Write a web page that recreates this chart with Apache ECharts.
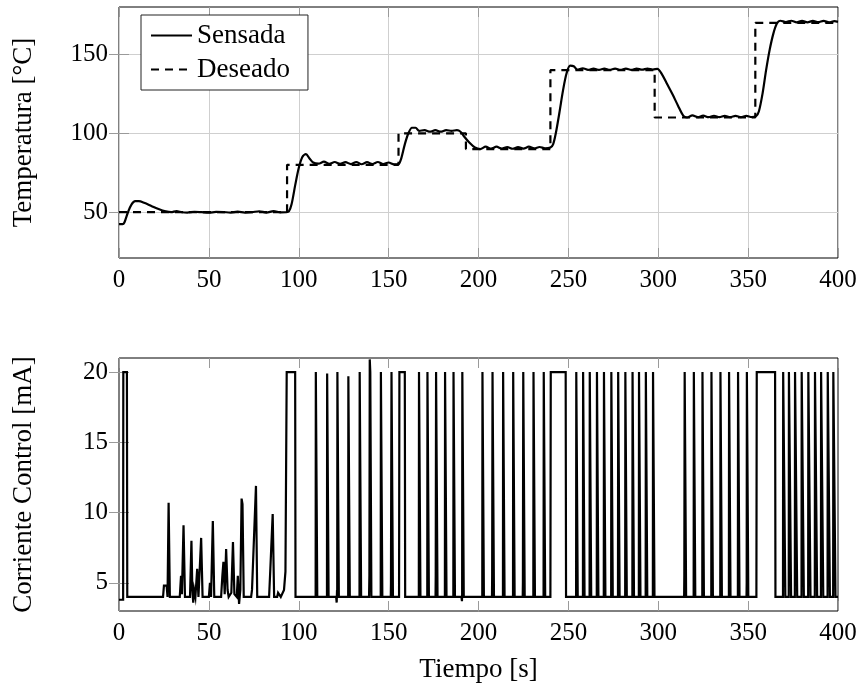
<!DOCTYPE html>
<html>
<head>
<meta charset="utf-8">
<script src="https://cdn.jsdelivr.net/npm/echarts@6/dist/echarts.min.js"></script>
<style>html,body{margin:0;padding:0;background:#fff}#c{width:860px;height:686px}</style>
</head>
<body>
<div id="c"></div>
<script>
// ---- data ----
const timeTicks = [0, 50, 100, 150, 200, 250, 300, 350, 400];
const tempTicks = [50, 100, 150];
const currentTicks = [5, 10, 15, 20];

// set-point (Deseado): change times and levels (step)
const setTimes  = [0, 93.5, 155.5, 193, 240, 298, 354, 400];
const setLevels = [50, 80, 100, 90, 140, 110, 170, 170];

// measured temperature (Sensada) [t, °C]
const sensada = [
  [0,42.5],[2,42.5],[3,43.5],[5,50],[7,55],[9,57],[11,57],[14,56],[18,54],[22,52],[26,50.5],[29,50],
  [32,50.7],[35,50],[38,49.8],[42,50.3],[46,50],[50,49.7],[54,50.2],[58,50.1],[62,49.8],[66,50.4],
  [70,49.8],[74,50],[78,50.6],[82,49.8],[86,50.7],[90,49.9],[93,50],[94.5,50.5],
  [96,55],[98,67],[100,78],[102,85],[104,86.8],[106,84],[108,81.5],[111,80.8],[114,82],[117,80.7],
  [120,81.8],[123,80.6],[126,81.7],[129,80.5],[132,81.8],[135,80.4],[138,81.7],[141,80.5],[144,81.8],
  [147,80.5],[150,81.5],[153,80.3],[155.5,80.5],
  [157,84],[159,93],[161,100],[163,103.5],[165,103.5],[167,101.5],[170,102],[173,101],[176,102],
  [179,101],[182,102],[185,101.5],[188,102],[190,101],[192,98],[195,94],[198,91],[201,90],
  [204,91.5],[207,90.3],[210,91.5],[213,90.3],[216,91.3],[219,90.2],[222,91.3],[225,90.3],[228,91.5],
  [231,90.4],[234,91.3],[237,90.5],[240,91],[241.5,93],
  [243,100],[245,113],[247,127],[249,138],[251,142.8],[253,142.5],[255,140.3],[258,141.2],[261,140.2],
  [264,141],[267,140.2],[270,141],[273,140.2],[276,141],[279,140.2],[282,141],[285,140.2],[288,141],
  [291,140.3],[294,141],[297,140.4],[299.5,140.8],
  [302,137.5],[305,131],[308,124.5],[311,117.5],[314,111],[316,110],[319,111.3],[322,110.2],[325,111.2],
  [328,110.2],[331,111.1],[334,110.2],[337,111],[340,110.3],[343,111],[346,110.2],[349,111],[352,110.3],
  [354.5,111],
  [356,114],[358,125],[360,140],[362,153],[364,163],[366,169.5],[368,171.3],[371,170.5],[374,171.3],
  [377,170.3],[380,171.2],[383,170.3],[386,171.2],[389,170.4],[392,171.2],[395,170.3],[398,171],[400,170.6]
];

// control current [t, mA]
const corriente = [
  [0,3.8],[2.3,3.8],[2.4,20],[4.4,20],[4.6,4],
  [24.5,4],[25,4.8],[26.5,4.8],[27,4],[27.6,10.7],[28.3,4],
  [33.8,4],[34.5,5.5],[35,4.2],[35.9,9.1],[36.7,4],
  [39.5,4],[40.3,8.0],[40.8,4.5],[41.3,3.6],[41.8,4.5],[42.5,4],[43.5,6],[44.2,4],[45.7,8.2],[46.5,4],
  [50,4],[50.6,5],[51.2,4],[52.2,9.4],[53,4],
  [56.8,4],[57.5,5.5],[58.1,6.5],[58.8,4.2],[59.6,7.4],[60.4,4.5],[61,4],[62.5,4.3],[63.4,7.9],[64.2,4.2],
  [65.5,4],[66.1,5.5],[66.8,3.5],[67.5,4.5],[68.2,11],[68.7,10.6],[69.4,4],
  [73.5,4],[74,4.5],[75,4.5],[76.2,11.9],[76.9,4],
  [83.5,4],[84.2,6],[85.5,9.9],[86.3,4],
  [88,4],[88.5,4.3],[89.5,4.2],[90,4],
  [91.8,4.5],[92.6,5.8],[93.3,20],[98,20],[98.2,4],
  [109.4,4],[109.5,20],[110.2,20],[110.3,4],
  [115.7,4],[115.8,19.9],[116.5,19.9],[116.6,4],
  [120.8,4],[121.1,3.6],[121.3,4.5],[121.4,4],[121.5,20],[122.2,20],[122.3,4],
  [127.5,4],[127.6,19.7],[128.3,19.7],[128.4,4],
  [133.8,4],[133.9,20],[134.6,20],[134.7,4],
  [139.1,4],[139.3,5.5],[139.5,20.9],[139.8,20],[140.3,20],[140.4,4],
  [145.6,4],[145.7,20],[146.4,20],[146.5,4],
  [151.2,4],[151.3,5],[151.5,5],[151.6,20],[152.3,20],[152.4,4],
  [155.8,4],[156,20],[159,20],[159.2,4],
  [166.8,4],[166.9,20],[167.6,20],[167.7,4],
  [171.5,4],[171.6,20],[172.3,20],[172.4,4],
  [176.1,4],[176.2,5.5],[176.4,20],[177.1,20],[177.2,4],
  [181.3,4],[181.4,20],[182.1,20],[182.2,4],
  [186,4],[186.1,20],[186.8,20],[186.9,4],
  [190.5,4],[190.8,3.7],[190.9,4.2],[191,20],[191.7,20],[191.8,4],
  [202.1,4],[202.2,20],[202.9,20],[203,4],
  [207.5,4],[207.6,5.5],[207.8,20],[208.5,20],[208.6,4],
  [213.6,4],[213.7,20],[214.4,20],[214.5,4],
  [219.2,4],[219.3,20],[220,20],[220.1,4],
  [224.6,4],[224.7,5],[224.9,20],[225.6,20],[225.7,4],
  [230.5,4],[230.6,20],[231.3,20],[231.4,4],
  [236.2,4],[236.3,20],[237,20],[237.1,4],
  [240,4],[240.2,20],[248.5,20],[248.7,4],
  [254.3,4],[254.4,20],[255.1,20],[255.2,4],
  [258.1,4],[258.2,20],[258.9,20],[259,4],
  [261.8,4],[261.9,20],[262.6,20],[262.7,4],
  [265.8,4],[265.9,20],[266.6,20],[266.7,4],
  [269.7,4],[269.8,20],[270.5,20],[270.6,4],
  [273.8,4],[273.9,20],[274.6,20],[274.7,4],
  [277.6,4],[277.7,20],[278.4,20],[278.5,4],
  [281.6,4],[281.7,20],[282.4,20],[282.5,4],
  [285.6,4],[285.7,20],[286.4,20],[286.5,4],
  [289.2,4],[289.3,20],[290,20],[290.1,4],
  [293,4],[293.1,20],[293.8,20],[293.9,4],
  [297,4],[297.1,20],[297.8,20],[297.9,4],
  [314.4,4],[314.5,5.5],[314.7,20],[315.4,20],[315.5,4],
  [319.7,4],[319.8,20],[320.5,20],[320.6,4],
  [324.5,4],[324.6,20],[325.3,20],[325.4,4],
  [329.5,4],[329.6,20],[330.3,20],[330.4,4],
  [334.5,4],[334.6,20],[335.3,20],[335.4,4],
  [339.3,4],[339.4,20],[340.1,20],[340.2,4],
  [344.3,4],[344.4,20],[345.1,20],[345.2,4],
  [349.1,4],[349.2,5],[349.3,20],[350,20],[350.1,4],
  [354.6,4],[354.8,20],[365,20],[365.2,4],
  [369.4,4],[369.5,20],[370.6,20],[370.7,4],
  [372.6,4],[372.7,20],[373.8,20],[373.9,4],
  [376,4],[376.1,20],[377.2,20],[377.3,4],
  [379.7,4],[379.8,20],[380.9,20],[381,4],
  [383.4,4],[383.5,20],[384.6,20],[384.7,4],
  [387.1,4],[387.2,20],[388.3,20],[388.4,4],
  [390.5,4],[390.6,20],[391.7,20],[391.8,4],
  [394.2,4],[394.3,20],[395.4,20],[395.5,4],
  [397.3,4],[397.4,20],[398.5,20],[398.6,4],
  [400,4]
];

// ---- chart ----
const FONT = 'Liberation Serif';
const setData = setTimes.map((t, i) => [t, setLevels[i]]);
const tickGrey = '#9a9a9a';
const gridGrey = '#cfcfcf';

function xAx(gridIndex, pos, labels, split) {
  return {
    type: 'value', gridIndex, position: pos, min: 0, max: 400, interval: 50,
    axisLine: { show: false },
    axisTick: { show: true, inside: true, length: 10, lineStyle: { color: tickGrey, width: 1 } },
    axisLabel: { show: labels, margin: 10, color: '#000', fontFamily: FONT, fontSize: 25,
                 formatter: v => timeTicks.includes(v) ? String(v) : '' },
    splitLine: { show: split, lineStyle: { color: gridGrey, width: 1 } }
  };
}
function yAx(gridIndex, pos, labels, split, min, max, ticks) {
  return {
    type: 'value', gridIndex, position: pos, min, max,
    axisLine: { show: false },
    axisTick: { show: true, inside: true, length: 10, customValues: ticks,
                lineStyle: { color: tickGrey, width: 1 } },
    axisLabel: { show: labels, margin: 11, customValues: ticks, color: '#000',
                 fontFamily: FONT, fontSize: 25 },
    splitLine: { show: split, lineStyle: { color: gridGrey, width: 1 } }
  };
}

const chart = echarts.init(document.getElementById('c'), null, { renderer: 'canvas' });
const yTop = yAx(0, 'left', true, true, 21, 180, tempTicks);
yTop.name = 'Temperatura [°C]';
yTop.nameLocation = 'middle';
yTop.nameGap = 82;
yTop.nameTextStyle = { fontFamily: FONT, fontSize: 27, color: '#000' };
const yBot = yAx(1, 'left', true, false, 3, 21, currentTicks);
yBot.name = 'Corriente Control [mA]';
yBot.nameLocation = 'middle';
yBot.nameGap = 82;
yBot.nameTextStyle = { fontFamily: FONT, fontSize: 27, color: '#000' };
const xBot = xAx(1, 'bottom', true, false);
xBot.name = 'Tiempo [s]';
xBot.nameLocation = 'middle';
xBot.nameGap = 45;
xBot.nameTextStyle = { fontFamily: FONT, fontSize: 27, color: '#000' };

chart.setOption({
  animation: false,
  backgroundColor: '#fff',
  textStyle: { fontFamily: FONT },
  grid: [
    { left: 119, top: 7, width: 719, height: 251, show: true, borderColor: '#000', borderWidth: 1,
      backgroundColor: 'transparent', containLabel: false, outerBoundsMode: 'none' },
    { left: 119, top: 358, width: 719, height: 253, show: true, borderColor: '#000', borderWidth: 1,
      backgroundColor: 'transparent', containLabel: false, outerBoundsMode: 'none' }
  ],
  xAxis: [
    xAx(0, 'bottom', true, true),
    xAx(0, 'top', false, false),
    xBot,
    xAx(1, 'top', false, false)
  ],
  yAxis: [
    yTop,
    yAx(0, 'right', false, false, 21, 180, tempTicks),
    yBot,
    yAx(1, 'right', false, false, 3, 21, currentTicks)
  ],
  legend: {
    data: ['Sensada', 'Deseado'],
    orient: 'vertical', left: 141, top: 15,
    itemWidth: 41, itemHeight: 14, itemGap: 7,
    padding: [7, 18, 7, 9],
    borderColor: '#222', borderWidth: 1, backgroundColor: '#fff',
    itemStyle: { color: 'transparent', borderWidth: 0, opacity: 0 },
    textStyle: { fontFamily: FONT, fontSize: 27, color: '#000' },
    selectedMode: false
  },
  series: [
    { name: 'Sensada', type: 'line', xAxisIndex: 0, yAxisIndex: 0, data: sensada,
      smooth: 0.3, symbol: 'none', z: 3,
      lineStyle: { color: '#000', width: 2.2 }, itemStyle: { color: '#000' } },
    { name: 'Deseado', type: 'line', xAxisIndex: 0, yAxisIndex: 0, data: setData,
      step: 'end', symbol: 'none', z: 2,
      lineStyle: { color: '#000', width: 2.2, type: [8, 6] }, itemStyle: { color: '#000' } },
    { name: 'Corriente', type: 'line', xAxisIndex: 2, yAxisIndex: 2, data: corriente,
      symbol: 'none', z: 2,
      lineStyle: { color: '#000', width: 2.2, join: 'miter' }, itemStyle: { color: '#000' } }
  ]
});
</script>
</body>
</html>
